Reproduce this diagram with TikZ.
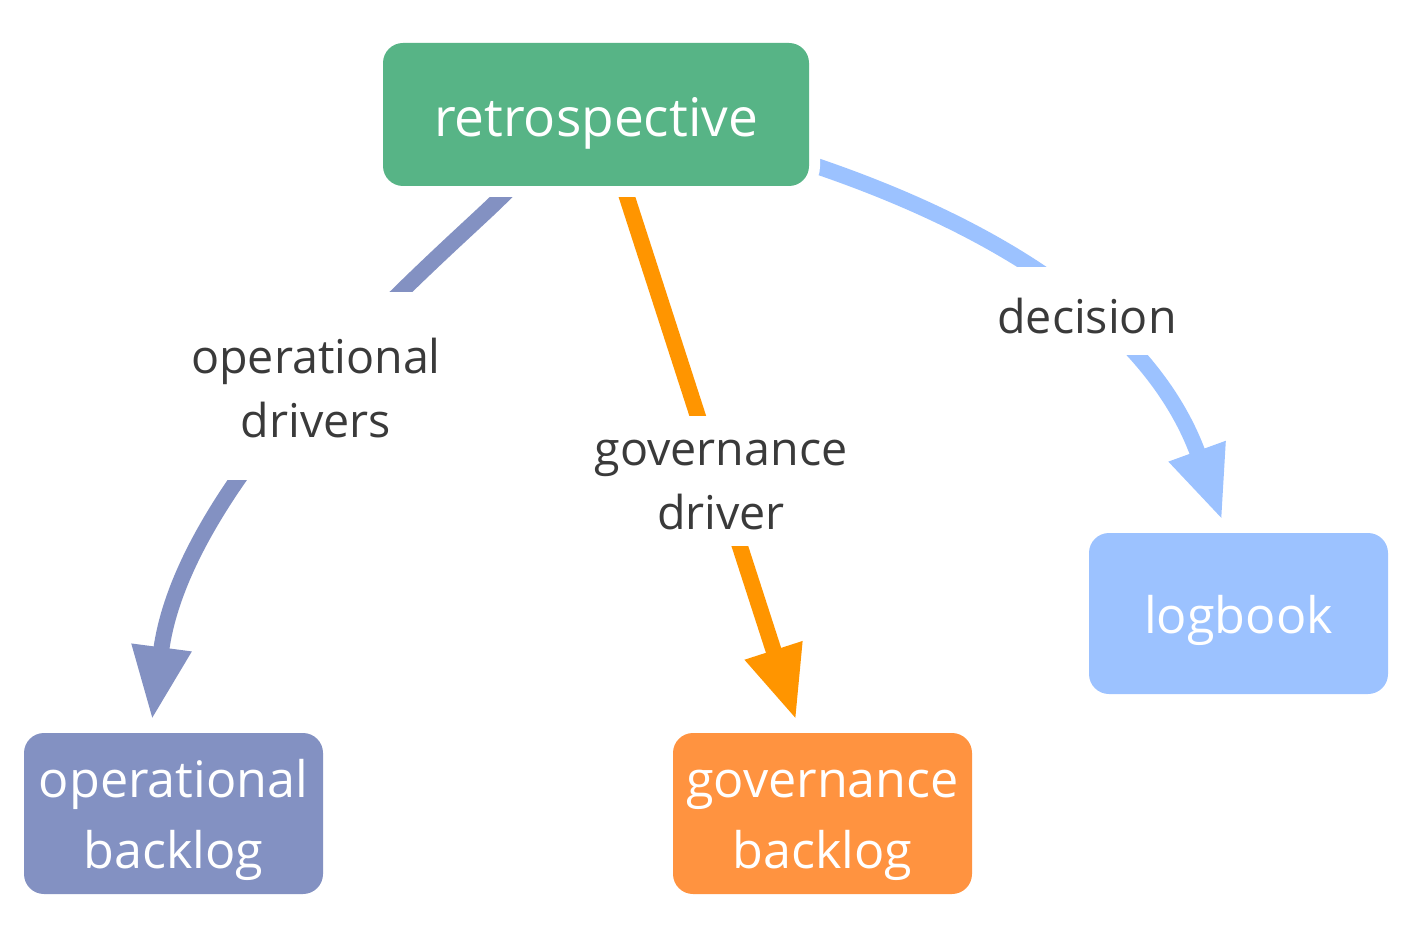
\documentclass[tikz,border=0pt]{standalone}
\usepackage{fontspec}
\setmainfont{Open Sans}
\usetikzlibrary{arrows.meta,calc}
\pgfdeclarelayer{background}
\pgfsetlayers{background,main}
\definecolor{retrogreen}{HTML}{57B486}
\definecolor{opblue}{HTML}{8391C2}
\definecolor{govarrow}{HTML}{FF9500}
\definecolor{govbox}{HTML}{FF9340}
\definecolor{logblue}{HTML}{9CC2FF}
\definecolor{lbltext}{HTML}{3A3A3A}
\begin{document}
\begin{tikzpicture}[x=1pt,y=-1pt,
  box/.style={rounded corners=20pt, text=white, align=center, inner sep=0pt,
    text depth=0pt, font=\fontsize{50.3}{71}\selectfont},
  lbl/.style={fill=white, text=lbltext, align=center, inner sep=0pt,
    text depth=0pt, font=\fontsize{46.6}{64}\selectfont},
  conn/.style={line width=16pt, -{Triangle[length=73pt,width=56pt]}},
]
\useasboundingbox (0,0) rectangle (1419,952);
\node[box, fill=retrogreen, minimum width=426pt, minimum height=143pt,
  font=\fontsize{53.2}{71}\selectfont, text height=45pt,
  preaction={draw=white, line width=22pt}] (retro) at (596,114.5) {retrospective};
\node[box, fill=opblue, minimum width=299pt, minimum height=161pt, text height=109.6pt] (opb) at (173.5,813.5) {operational\\backlog};
\node[box, fill=govbox, minimum width=299pt, minimum height=161pt, text height=109.6pt] (govb) at (822.5,813.5) {governance\\backlog};
\node[box, fill=logblue, minimum width=299pt, minimum height=161pt, text height=40pt] (logb) at (1238.5,613.5) {logbook};

\node[lbl, minimum width=262pt, minimum height=188pt, text height=102.8pt] (l1) at (316,386) {operational\\drivers};
\node[lbl, minimum width=264pt, minimum height=130pt, text height=96.6pt] (l2) at (721,481) {governance\\driver};
\node[lbl, minimum width=190pt, minimum height=88pt, text height=44pt] (l3) at (1087,311) {decision};

\begin{pgfonlayer}{background}
\draw[conn, opblue] ($(retro.south)+(-68,-16)$) -- ($(retro.south)+(-95,11)$)
  .. controls +(-53,53) and +(33,-250) .. ($(opb.north)+(-21.5,-13)$);
\draw[conn, govarrow] ($(retro.south)+(22.3,-16)$) -- ($(govb.north)+(-26.5,-13)$);
\draw[conn, logblue] ($(retro.east)+(-11,45.5)$) -- ($(retro.east)+(13,53.5)$)
  .. controls +(208,72) and +(-65,-179) .. ($(logb.north)+(-16.5,-13)$);
\end{pgfonlayer}
\end{tikzpicture}
\end{document}
